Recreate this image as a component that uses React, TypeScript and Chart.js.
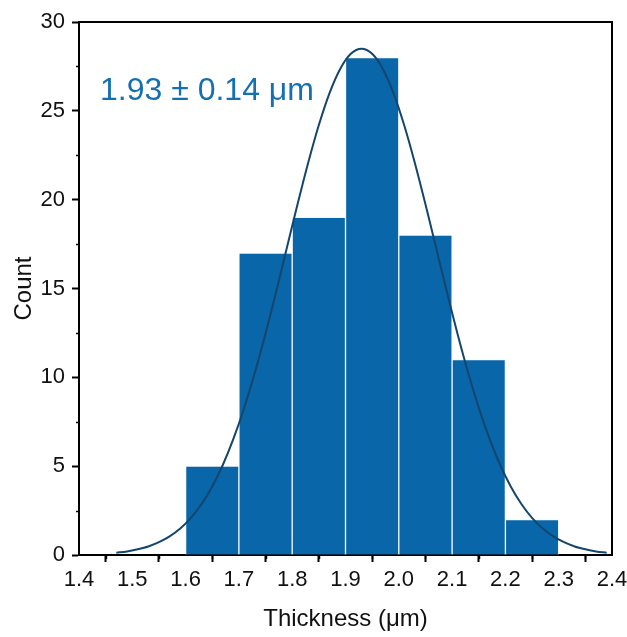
import React, { useEffect, useRef } from "react";
import { Chart, registerables } from "chart.js";

Chart.register(...registerables);

// Histogram bins (centers) and counts
const binCenters = [1.65, 1.75, 1.85, 1.95, 2.05, 2.15, 2.25];
const counts = [5, 17, 19, 28, 18, 11, 2];

// Fitted distribution curve
const curveX = [
  1.47, 1.49, 1.51, 1.53, 1.55, 1.57, 1.59, 1.61, 1.63, 1.65, 1.67, 1.69, 1.71,
  1.73, 1.75, 1.77, 1.79, 1.81, 1.83, 1.85, 1.87, 1.89, 1.91, 1.93, 1.95, 1.97,
  1.99, 2.01, 2.03, 2.05, 2.07, 2.09, 2.11, 2.13, 2.15, 2.17, 2.19, 2.21, 2.23,
  2.25, 2.27, 2.29, 2.31, 2.33, 2.35, 2.37, 2.39,
];
const curveY = [
  0.13, 0.2, 0.32, 0.48, 0.72, 1.05, 1.49, 2.09, 2.87, 3.86, 5.08, 6.56, 8.29,
  10.27, 12.47, 14.83, 17.29, 19.74, 22.08, 24.2, 26.0, 27.36, 28.21, 28.5,
  28.21, 27.36, 26.0, 24.2, 22.08, 19.74, 17.29, 14.83, 12.47, 10.27, 8.29,
  6.56, 5.08, 3.86, 2.87, 2.09, 1.49, 1.05, 0.72, 0.48, 0.32, 0.2, 0.13,
];

const annotationText = "1.93 ± 0.14 μm";
const xTitle = "Thickness (μm)";
const yTitle = "Count";

const FONT = "'Liberation Sans', Arial, Helvetica, sans-serif";
const BAR_COLOR = "#0866a9";
const CURVE_COLOR = "#14466d";
const TEXT_BLUE = "#1470b0";

const framePlugin = {
  id: "frame",
  afterDraw(chart: any) {
    const { ctx, chartArea } = chart;
    const xs = chart.scales.x;
    const ys = chart.scales.y;
    ctx.save();
    // minor ticks
    ctx.strokeStyle = "#000";
    ctx.lineWidth = 1.5;
    ctx.beginPath();
    for (let i = 0; i < 10; i++) {
      const v = 1.45 + i * 0.1;
      const px = Math.round(xs.getPixelForValue(v)) + 0.5;
      ctx.moveTo(px, chartArea.bottom);
      ctx.lineTo(px, chartArea.bottom + 4);
    }
    for (let i = 0; i < 6; i++) {
      const v = 2.5 + i * 5;
      const py = Math.round(ys.getPixelForValue(v)) + 0.5;
      ctx.moveTo(chartArea.left, py);
      ctx.lineTo(chartArea.left - 3, py);
    }
    ctx.stroke();
    // top and right frame
    ctx.lineWidth = 2;
    ctx.beginPath();
    ctx.moveTo(chartArea.left, chartArea.top);
    ctx.lineTo(chartArea.right, chartArea.top);
    ctx.lineTo(chartArea.right, chartArea.bottom);
    ctx.stroke();
    // annotation
    ctx.fillStyle = TEXT_BLUE;
    ctx.font = `32px ${FONT}`;
    ctx.textBaseline = "middle";
    ctx.textAlign = "left";
    ctx.fillText(annotationText, xs.getPixelForValue(1.4395), ys.getPixelForValue(26.1));
    ctx.restore();
  },
};

export default function App() {
  const ref = useRef<HTMLCanvasElement>(null);
  useEffect(() => {
    if (!ref.current) return;
    const chart = new Chart(ref.current, {
      type: "bar",
      data: {
        datasets: [
          {
            type: "line",
            data: curveX.map((x, i) => ({ x, y: curveY[i] })),
            borderColor: CURVE_COLOR,
            borderWidth: 2,
            pointRadius: 0,
            tension: 0.3,
            fill: false,
            order: 0,
          } as any,
          {
            type: "bar",
            data: binCenters.map((x, i) => ({ x, y: counts[i] })),
            backgroundColor: BAR_COLOR,
            borderColor: "#f4f7fa",
            borderWidth: { top: 1, left: 1, right: 1, bottom: 0 },
            borderSkipped: false,
            barPercentage: 1,
            categoryPercentage: 1,
            grouped: false,
            order: 1,
          } as any,
        ],
      },
      options: {
        animation: false,
        responsive: false,
        devicePixelRatio: 1,
        layout: { padding: { top: 22, right: 15, left: 0, bottom: 0 } },
        plugins: { legend: { display: false }, tooltip: { enabled: false } },
        scales: {
          x: {
            type: "linear",
            min: 1.4,
            max: 2.4,
            offset: false,
            afterFit(scale: any) {
              scale.height = 82;
              scale.paddingLeft = 0;
              scale.paddingRight = 0;
            },
            ticks: {
              stepSize: 0.1,
              autoSkip: false,
              maxRotation: 0,
              color: "#111",
              padding: 5,
              font: { family: FONT, size: 22 },
              callback: (v: any) => Number(v).toFixed(1),
            },
            grid: {
              drawOnChartArea: false,
              drawTicks: true,
              tickLength: 7,
              tickColor: "#000",
              tickWidth: 2,
            },
            border: { display: true, color: "#000", width: 2 },
            title: {
              display: true,
              text: xTitle,
              color: "#111",
              font: { family: FONT, size: 24 },
              padding: { top: 0, bottom: 3 },
            },
          },
          y: {
            type: "linear",
            min: 0,
            max: 30,
            afterFit(scale: any) {
              scale.width = 79;
              scale.paddingTop = 0;
              scale.paddingBottom = 0;
            },
            ticks: {
              stepSize: 5,
              color: "#111",
              padding: 7,
              font: { family: FONT, size: 22 },
            },
            grid: {
              drawOnChartArea: false,
              drawTicks: true,
              tickLength: 7,
              tickColor: "#000",
              tickWidth: 2,
            },
            border: { display: true, color: "#000", width: 2 },
            title: {
              display: true,
              text: yTitle,
              color: "#111",
              font: { family: FONT, size: 24 },
              padding: { top: 10, bottom: 0 },
            },
          },
        },
      },
      plugins: [framePlugin],
    });
    return () => chart.destroy();
  }, []);
  return (
    <div style={{ position: "absolute", left: 0, top: 0, width: 627, height: 637, background: "#fff" }}>
      <canvas ref={ref} width={627} height={637} />
    </div>
  );
}
